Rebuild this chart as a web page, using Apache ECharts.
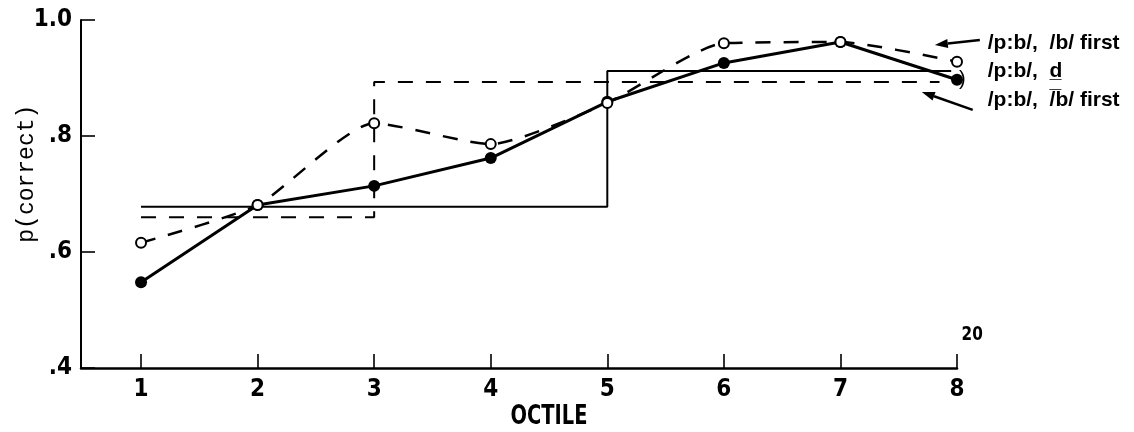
<!DOCTYPE html>
<html>
<head>
<meta charset="utf-8">
<script src="https://cdn.jsdelivr.net/npm/echarts@6/dist/echarts.min.js"></script>
<style>
  html, body { margin: 0; padding: 0; background: #fff; }
  #chart { width: 1134px; height: 432px; }
</style>
</head>
<body>
<div id="chart"></div>
<script>
// Proportion correct by octile
const octiles = [1, 2, 3, 4, 5, 6, 7, 8];
const xTickLabels = ['1', '2', '3', '4', '5', '6', '7', '8'];
const filledValues = [0.548, 0.681, 0.714, 0.762, 0.859, 0.926, 0.962, 0.897];
const openValues = [0.616, 0.681, 0.822, 0.786, 0.857, 0.960, 0.962, 0.928];

// Mean levels drawn as steps
const solidStepX = [1, 5, 5, 7.95];
const solidStepY = [0.678, 0.678, 0.912, 0.912];
const dashedStepX = [1, 3, 3, 7.85];
const dashedStepY = [0.660, 0.660, 0.893, 0.893];

const yTickValues = [0.4, 0.6, 0.8, 1.0];
const yTickLabels = ['.4', '.6', '.8', '1.0'];

// Annotation text and arrows, placed in data units
const labelX = 8.264;
const labelTexts = ['/p:b/,  /b/ first', '/p:b/,  d\u0332', '/p:b/,  /\u0305b/ first'];
const labelY = [0.960, 0.911, 0.862];
const arrows = [
  { from: [8.196, 0.9655], to: [7.81, 0.957] },
  { from: [8.135, 0.845], to: [7.698, 0.876] }
];
const bracketPos = [8.045, 0.898];
const pageNumber = '20';
const pageNumberPos = [8.13, 0.457];
const xName = 'OCTILE';
const xNamePos = [4.50, 0.315];
const yName = 'p(correct)';
const yNamePos = [0.02, 0.735];

const INK = '#000';
const BOLD_NARROW = "'Liberation Sans Narrow', 'DejaVu Sans Condensed', 'Liberation Sans', sans-serif";

const pairs = (xs, ys) => xs.map((x, i) => [x, ys[i]]);

const chart = echarts.init(document.getElementById('chart'), null, { renderer: 'canvas' });

chart.setOption({
  backgroundColor: '#fff',
  animation: false,
  grid: { left: 81, top: 20, right: 177, bottom: 64, containLabel: false },
  xAxis: {
    type: 'value',
    min: 0.485,
    max: 8,
    splitLine: { show: false },
    axisLine: { show: true, onZero: false, lineStyle: { color: INK, width: 2.5 } },
    axisTick: { show: true, inside: true, length: 14, customValues: octiles, lineStyle: { color: INK, width: 1.6 } },
    axisLabel: {
      customValues: octiles,
      formatter: v => xTickLabels[octiles.indexOf(Math.round(v))] || '',
      color: INK, fontFamily: BOLD_NARROW, fontWeight: 'bold', fontSize: 24, margin: 10
    }
  },
  yAxis: {
    type: 'value',
    min: 0.4,
    max: 1.0,
    interval: 0.2,
    splitLine: { show: false },
    axisLine: { show: true, lineStyle: { color: INK, width: 2 } },
    axisTick: { show: true, inside: true, length: 14, lineStyle: { color: INK, width: 1.6 } },
    axisLabel: {
      formatter: v => {
        let best = 0;
        yTickValues.forEach((t, i) => { if (Math.abs(t - v) < Math.abs(yTickValues[best] - v)) best = i; });
        return yTickLabels[best];
      },
      color: INK, fontFamily: BOLD_NARROW, fontWeight: 'bold', fontSize: 24, margin: 9
    }
  },
  series: [
    {
      name: 'solid step',
      type: 'line',
      data: pairs(solidStepX, solidStepY),
      showSymbol: false,
      lineStyle: { color: INK, width: 2 },
      z: 2
    },
    {
      name: 'dashed step',
      type: 'line',
      data: pairs(dashedStepX, dashedStepY),
      showSymbol: false,
      lineStyle: { color: INK, width: 2, type: [15, 13] },
      z: 2
    },
    {
      name: 'filled',
      type: 'line',
      data: pairs(octiles, filledValues),
      symbol: 'circle',
      symbolSize: 12,
      itemStyle: { color: INK },
      lineStyle: { color: INK, width: 3 },
      z: 3
    },
    {
      name: 'open',
      type: 'line',
      data: pairs(octiles, openValues),
      smooth: 0.2,
      symbol: 'emptyCircle',
      symbolSize: 10,
      itemStyle: { color: INK, borderColor: INK, borderWidth: 2 },
      lineStyle: { color: INK, width: 2.5, type: [15, 13] },
      z: 4
    }
  ]
});

// Place annotations through the chart's own coordinate conversion
const px = p => chart.convertToPixel({ gridIndex: 0 }, p);
const graphics = [];

arrows.forEach(a => {
  const f = px(a.from), t = px(a.to);
  const dx = t[0] - f[0], dy = t[1] - f[1];
  const len = Math.hypot(dx, dy);
  const ux = dx / len, uy = dy / len;
  const headLen = 13, headHalf = 4.5;
  const bx = t[0] - ux * headLen, by = t[1] - uy * headLen;
  graphics.push({
    type: 'line',
    shape: { x1: f[0], y1: f[1], x2: bx, y2: by },
    style: { stroke: INK, lineWidth: 2.5 }
  });
  graphics.push({
    type: 'polygon',
    shape: { points: [t, [bx - uy * headHalf, by + ux * headHalf], [bx + uy * headHalf, by - ux * headHalf]] },
    style: { fill: INK }
  });
});

labelTexts.forEach((txt, i) => {
  const p = px([labelX, labelY[i]]);
  graphics.push({
    type: 'text',
    x: p[0], y: p[1],
    style: {
      text: txt, fill: INK, font: "bold 21px 'Liberation Sans', 'DejaVu Sans', sans-serif",
      align: 'left', verticalAlign: 'middle'
    }
  });
});

const bp = px(bracketPos);
graphics.push({
  type: 'text', x: bp[0], y: bp[1],
  style: { text: ')', fill: INK, font: "20px 'Liberation Sans', sans-serif", align: 'center', verticalAlign: 'middle' }
});

const pn = px(pageNumberPos);
graphics.push({
  type: 'text', x: pn[0], y: pn[1], scaleX: 0.85,
  style: { text: pageNumber, fill: INK, font: "bold 20px " + BOLD_NARROW, align: 'center', verticalAlign: 'middle' }
});

const xn = px(xNamePos);
graphics.push({
  type: 'text', x: xn[0], y: xn[1], scaleX: 0.8,
  style: { text: xName, fill: INK, font: "bold 27px " + BOLD_NARROW, align: 'center', verticalAlign: 'middle' }
});

const yn = px(yNamePos);
graphics.push({
  type: 'text', x: yn[0], y: yn[1], rotation: Math.PI / 2,
  style: { text: yName, fill: INK, font: "23px 'Liberation Mono', 'DejaVu Sans Mono', monospace", align: 'center', verticalAlign: 'middle' }
});

chart.setOption({ graphic: graphics });
</script>
</body>
</html>
